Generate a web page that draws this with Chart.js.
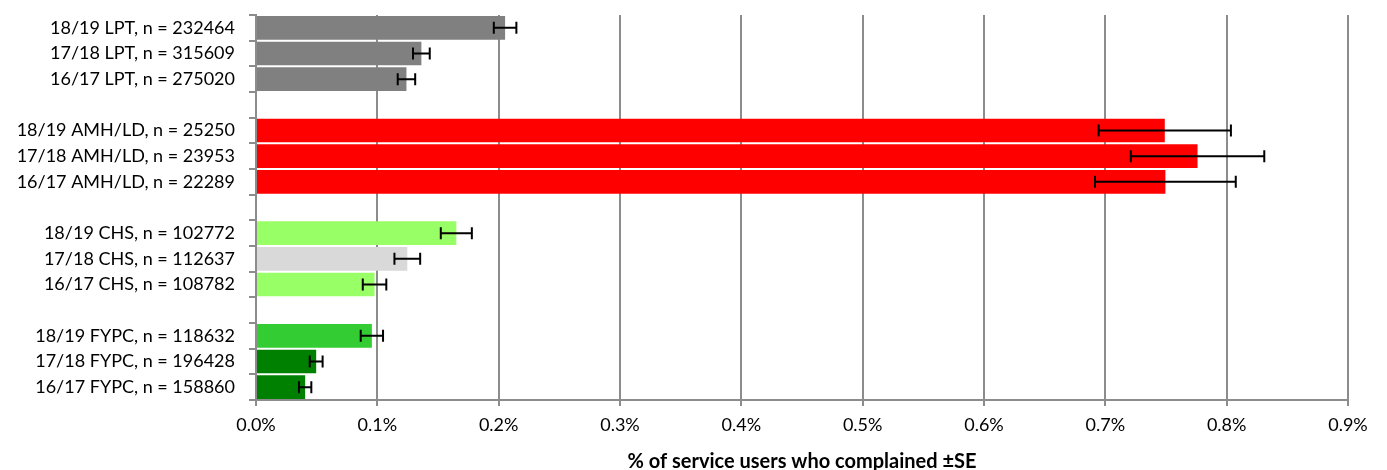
<!DOCTYPE html>
<html>
<head>
<meta charset="utf-8">
<script src="https://cdn.jsdelivr.net/npm/chart.js@4.4.1/dist/chart.umd.min.js"></script>
<style>
  html, body { margin: 0; padding: 0; background: #fff; }
</style>
</head>
<body>
<canvas id="complaintsChart" width="1387" height="470"></canvas>
<script>
// empty labels are the gaps between the trust groups
const categories = [
    '18/19 LPT, n = 232464', '17/18 LPT, n = 315609', '16/17 LPT, n = 275020', '',
    '18/19 AMH/LD, n = 25250', '17/18 AMH/LD, n = 23953', '16/17 AMH/LD, n = 22289', '',
    '18/19 CHS, n = 102772', '17/18 CHS, n = 112637', '16/17 CHS, n = 108782', '',
    '18/19 FYPC, n = 118632', '17/18 FYPC, n = 196428', '16/17 FYPC, n = 158860'
];

// % of service users who complained
const rates = [
    0.2053, 0.1363, 0.1240, null,
    0.7490, 0.7760, 0.7495, null,
    0.1651, 0.1247, 0.0977, null,
    0.0955, 0.0496, 0.0405
];

// standard error (+/-)
const stdErrors = [
    0.0093, 0.0069, 0.0072, null,
    0.0545, 0.0550, 0.0580, null,
    0.0128, 0.0106, 0.0097, null,
    0.0092, 0.0053, 0.0051
];

const barColors = [
    '#808080', '#808080', '#808080', null,
    '#ff0000', '#ff0000', '#ff0000', null,
    '#99ff66', '#d9d9d9', '#99ff66', null,
    '#33cc33', '#008000', '#008000'
];

const xTicks = [0, 0.1, 0.2, 0.3, 0.4, 0.5, 0.6, 0.7, 0.8, 0.9];

const gridGray = '#8c8c8c';
const fontFamily = 'Lato, "Open Sans", sans-serif';

// Draw the +/- SE whiskers on top of the bars
const ErrorBars = {
    id: 'errorBars',
    afterDatasetsDraw(chart) {
        const { ctx, scales: { x, y } } = chart;
        ctx.save();
        ctx.strokeStyle = '#000';
        ctx.lineWidth = 2;
        rates.forEach((v, i) => {
            if (v == null) return;
            const yc = y.getPixelForValue(i);
            const x0 = x.getPixelForValue(v - stdErrors[i]);
            const x1 = x.getPixelForValue(v + stdErrors[i]);
            ctx.beginPath();
            ctx.moveTo(x0, yc);
            ctx.lineTo(x1, yc);
            ctx.moveTo(x0, yc - 6);
            ctx.lineTo(x0, yc + 6);
            ctx.moveTo(x1, yc - 6);
            ctx.lineTo(x1, yc + 6);
            ctx.stroke();
        });
        ctx.restore();
    }
};

const chart = new Chart(document.getElementById('complaintsChart'), {
    type: 'bar',
    data: {
        labels: categories,
        datasets: [{
            data: rates,
            backgroundColor: barColors,
            borderWidth: 0,
            barPercentage: 0.92,
            categoryPercentage: 1
        }]
    },
    options: {
        indexAxis: 'y',
        responsive: false,
        animation: false,
        devicePixelRatio: 1,
        layout: { padding: { top: 15, right: 39, bottom: 0, left: 0 } },
        plugins: {
            legend: { display: false },
            tooltip: { enabled: false }
        },
        scales: {
            x: {
                min: 0,
                max: 0.9,
                afterBuildTicks: s => { s.ticks = xTicks.map(v => ({ value: v })); },
                afterFit: s => { s.height = 70; },
                ticks: {
                    color: '#000',
                    padding: 8,
                    font: { family: fontFamily, size: 18 },
                    callback: v => v.toFixed(1) + '%'
                },
                grid: { color: gridGray, lineWidth: 2, tickLength: 6 },
                border: { color: gridGray, width: 2 },
                title: {
                    display: true,
                    text: '% of service users who complained ±SE',
                    color: '#000',
                    font: { family: fontFamily, size: 20, weight: 'bold', lineHeight: 0.8 },
                    padding: { top: 0, bottom: 0 }
                }
            },
            y: {
                afterFit: s => {
                    s.width = 256;
                    s.paddingTop = 0;
                    s.paddingBottom = 0;
                },
                ticks: {
                    color: '#000',
                    padding: 14,
                    autoSkip: false,
                    font: { family: fontFamily, size: 18 }
                },
                grid: { drawOnChartArea: false, color: gridGray, lineWidth: 2, tickLength: 7 },
                border: { color: gridGray, width: 2 }
            }
        }
    },
    plugins: [ErrorBars]
});
</script>
</body>
</html>
